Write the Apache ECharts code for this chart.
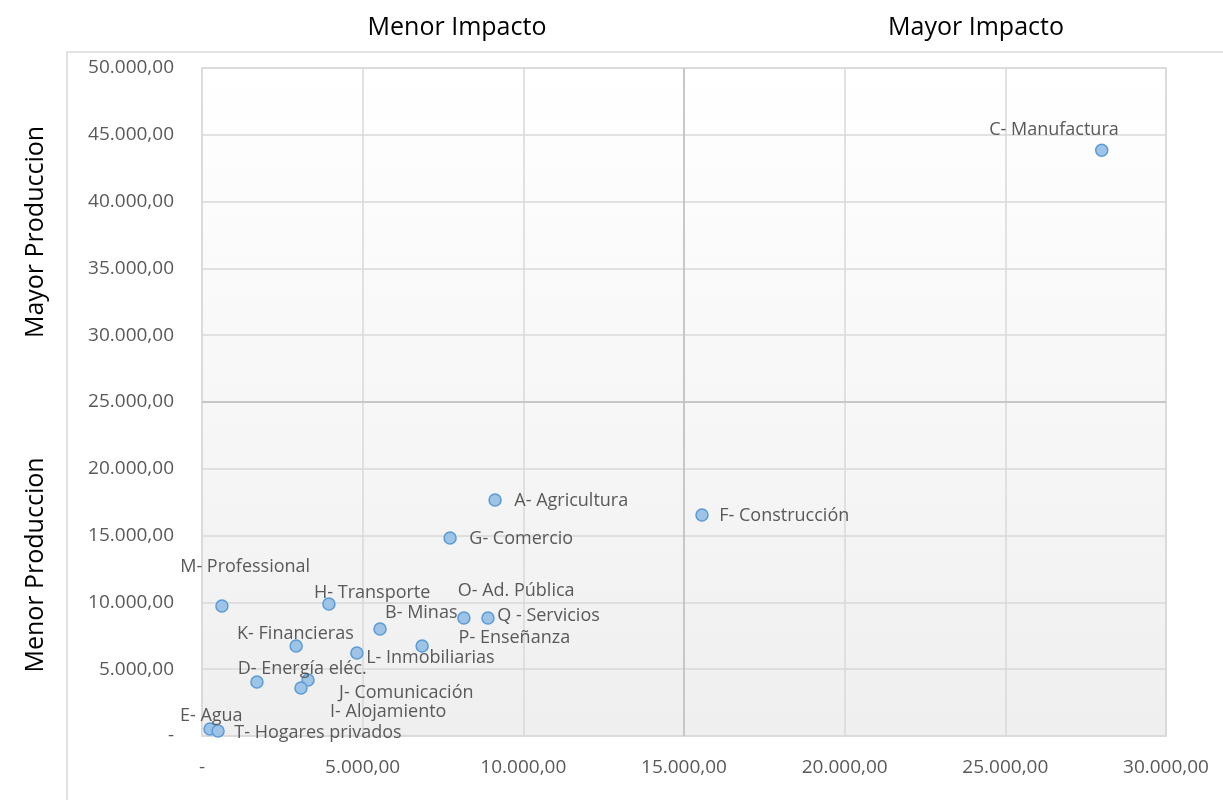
<!DOCTYPE html>
<html><head><meta charset="utf-8">
<script src="https://cdn.jsdelivr.net/npm/echarts@6/dist/echarts.min.js"></script>
<style>html,body{margin:0;padding:0;background:#fff}#c{width:1223px;height:800px}</style>
</head><body><div id="c"></div>
<script>
var names = ["C- Manufactura","F- Construcción","A- Agricultura","G- Comercio","M- Professional","H- Transporte","O- Ad. Pública","Q - Servicios","B- Minas","K- Financieras","P- Enseñanza","L- Inmobiliarias","D- Energía eléc.","J- Comunicación","I- Alojamiento","E- Agua","T- Hogares privados"];
var impacto = [28000,15560,9120,7720,620,3950,8150,8900,5540,2930,6850,4820,1710,3300,3080,250,500];
var produccion = [43850,16540,17660,14820,9730,9880,8830,8830,8010,6740,6740,6210,4040,4190,3590,520,370];
var xTicks = [0,5000,10000,15000,20000,25000,30000];
var yTicks = [0,5000,10000,15000,20000,25000,30000,35000,40000,45000,50000];

// label layout (offset of the text anchor from the marker centre, alignment)
var labelLayout = {
  "C- Manufactura":[-47,-22,"center"],
  "F- Construcción":[18,0,"left"],
  "A- Agricultura":[20,0,"left"],
  "G- Comercio":[20,0,"left"],
  "M- Professional":[24,-40,"center"],
  "H- Transporte":[44,-12,"center"],
  "O- Ad. Pública":[53,-28,"center"],
  "Q - Servicios":[10,-3,"left"],
  "B- Minas":[42,-17,"center"],
  "K- Financieras":[0,-13,"center"],
  "P- Enseñanza":[93,-9,"center"],
  "L- Inmobiliarias":[10,4,"left"],
  "D- Energía eléc.":[46,-14,"center"],
  "J- Comunicación":[99,12,"center"],
  "I- Alojamiento":[88,23,"center"],
  "E- Agua":[2,-14,"center"],
  "T- Hogares privados":[17,1,"left"]
};
var SYM = 12;
var LABEL_SHIFT_Y = 2;

function fmt(v){
  if (v === 0) return "-";
  var s = Math.round(v).toString().replace(/\B(?=(\d{3})+(?!\d))/g, ".");
  return s + ",00";
}

var data = names.map(function(n,i){
  var l = labelLayout[n];
  return {
    name: n,
    value: [impacto[i], produccion[i]],
    label: {position:[SYM/2 + l[0], SYM/2 + l[1] + LABEL_SHIFT_Y], align: l[2], verticalAlign:'middle'}
  };
});

var chart = echarts.init(document.getElementById('c'));
var FONT = "Open Sans";
chart.setOption({
  animation: false,
  backgroundColor: '#ffffff',
  textStyle: {fontFamily: FONT},
  grid: {left: 202, top: 68, right: 57, bottom: 64, show: true,
    borderColor: '#d9d9d9', borderWidth: 1.5,
    backgroundColor: new echarts.graphic.LinearGradient(0,0,0,1,[{offset:0,color:'#ffffff'},{offset:1,color:'#efefef'}])
  },
  graphic: [
    {type:'rect', z:-1, shape:{x:67,y:52,width:1300,height:900}, style:{fill:null, stroke:'#d9d9d9', lineWidth:1.5}},
    {type:'text', style:{text:'Menor Impacto', x:457, y:28, align:'center', verticalAlign:'middle', font:'25px "Open Sans"', fill:'#000'}},
    {type:'text', style:{text:'Mayor Impacto', x:976, y:28, align:'center', verticalAlign:'middle', font:'25px "Open Sans"', fill:'#000'}},
    {type:'text', rotation: Math.PI/2, x:36, y:232, style:{text:'Mayor Produccion', x:0, y:0, align:'center', verticalAlign:'middle', font:'25px "Open Sans"', fill:'#000'}},
    {type:'text', rotation: Math.PI/2, x:36, y:565, style:{text:'Menor Produccion', x:0, y:0, align:'center', verticalAlign:'middle', font:'25px "Open Sans"', fill:'#000'}}
  ],
  xAxis: {
    type: 'value', min: xTicks[0], max: xTicks[xTicks.length-1], interval: xTicks[1]-xTicks[0],
    axisLine: {show:false}, axisTick: {show:false},
    axisLabel: {formatter: fmt, color:'#595959', fontSize:19, fontFamily: FONT, margin: 22},
    splitLine: {show:true, lineStyle:{color:'#d9d9d9', width:1.5}}
  },
  yAxis: {
    type: 'value', min: yTicks[0], max: yTicks[yTicks.length-1], interval: yTicks[1]-yTicks[0],
    axisLine: {show:false}, axisTick: {show:false},
    axisLabel: {formatter: fmt, color:'#595959', fontSize:19, fontFamily: FONT, margin: 28},
    splitLine: {show:true, lineStyle:{color:'#d9d9d9', width:1.5}}
  },
  series: [{
    type: 'scatter',
    symbol: 'circle',
    symbolSize: SYM,
    itemStyle: {color:'#9dc3e6', borderColor:'#5b9bd5', borderWidth:1.5, opacity:1},
    label: {show:true, formatter: '{b}', color:'#595959', fontSize:18, fontFamily: FONT},
    labelLayout: {hideOverlap:false},
    data: data,
    markLine: {
      silent: true, symbol: 'none', label: {show:false},
      lineStyle: {color:'#bfbfbf', width:1.5, type:'solid'},
      data: [{xAxis: xTicks[3]}, {yAxis: yTicks[5]}]
    },
    z: 3
  }]
});
</script></body></html>
